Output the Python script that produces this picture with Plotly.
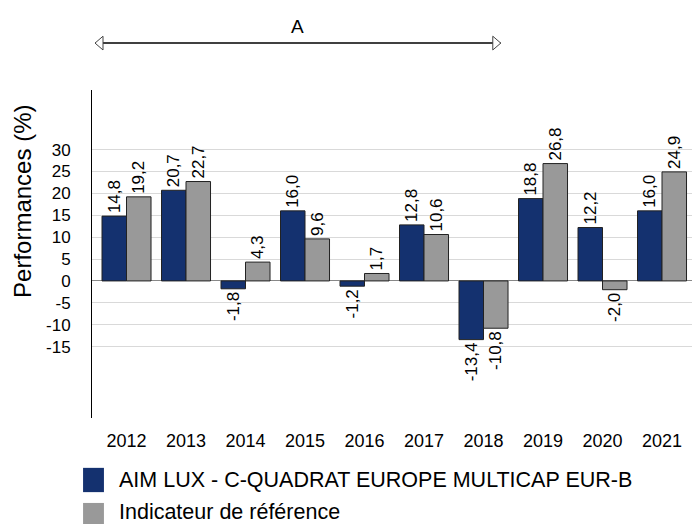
import plotly.graph_objects as go

years = ["2012", "2013", "2014", "2015", "2016", "2017", "2018", "2019", "2020", "2021"]
fund = [14.8, 20.7, -1.8, 16.0, -1.2, 12.8, -13.4, 18.8, 12.2, 16.0]
bench = [19.2, 22.7, 4.3, 9.6, 1.7, 10.6, -10.8, 26.8, -2.0, 24.9]
fund_name = "AIM LUX - C-QUADRAT EUROPE MULTICAP EUR-B"
bench_name = "Indicateur de référence"
ytick_vals = [30, 25, 20, 15, 10, 5, 0, -5, -10, -15]
period_label = "A"
y_title = "Performances (%)"

FUND_COLOR = "#14316F"
BENCH_COLOR = "#999999"
FONT = "Liberation Sans, Arial, sans-serif"


def fmt(v):
    return f"{v:.1f}".replace(".", ",")


fig = go.Figure()
for name, vals, color in [(fund_name, fund, FUND_COLOR), (bench_name, bench, BENCH_COLOR)]:
    fig.add_trace(go.Bar(
        x=years, y=vals, name=name, showlegend=False,
        marker=dict(color=color, line=dict(color="#222222", width=1)),
        text=[fmt(v) for v in vals], textposition="outside", textangle=-90,
        constraintext="none",
        textfont=dict(size=17, color="#000000", family=FONT), cliponaxis=False,
    ))

# Arrow spanning 2012 -> 2018
x0, x1 = -0.529, 6.29
ya = 1.143
hl, hh = 0.134, 0.021
fig.add_shape(type="line", xref="x", yref="paper", x0=x0, x1=x1, y0=ya, y1=ya,
              line=dict(color="#000000", width=1.5))
fig.add_shape(type="path", xref="x", yref="paper",
              path=f"M {x0+hl},{ya+hh} L {x0},{ya} L {x0+hl},{ya-hh} Z",
              line=dict(color="#444444", width=1), fillcolor="white")
fig.add_shape(type="path", xref="x", yref="paper",
              path=f"M {x1-hl},{ya+hh} L {x1},{ya} L {x1-hl},{ya-hh} Z",
              line=dict(color="#444444", width=1), fillcolor="white")
fig.add_annotation(x=(x0 + x1) / 2, y=1.195, xref="x", yref="paper", text=period_label,
                   showarrow=False, yanchor="middle",
                   font=dict(size=19, color="#000000", family=FONT))

# Y-axis title (placed above the axis centre, as in the reference)
fig.add_annotation(x=-0.116, y=0.66, xref="paper", yref="paper", text=y_title,
                   showarrow=False, textangle=-90, xanchor="center", yanchor="middle",
                   font=dict(size=24, color="#000000", family=FONT))

# Custom legend (large squares)
legend_rows = [(fund_name, FUND_COLOR, -0.189, -0.189),
               (bench_name, BENCH_COLOR, -0.296, -0.287)]
for name, color, ysq, ytx in legend_rows:
    fig.add_shape(type="rect", xref="paper", yref="paper",
                  x0=-0.0149, x1=0.0199, y0=ysq - 0.037, y1=ysq + 0.037,
                  line=dict(width=0), fillcolor=color)
    fig.add_annotation(x=0.0415, y=ytx, xref="paper", yref="paper", text=name,
                       showarrow=False, xanchor="left", yanchor="middle",
                       font=dict(size=21.5, color="#000000", family=FONT))

fig.update_layout(
    width=695, height=524,
    margin=dict(l=92, r=3, t=90, b=106, autoexpand=False),
    paper_bgcolor="white", plot_bgcolor="white",
    barmode="group", bargap=0.176, bargroupgap=0,
    font=dict(family=FONT, color="#000000"),
    showlegend=False,
    xaxis=dict(range=[-0.58, 9.504], showline=False, ticks="", tickfont=dict(size=18),
               showgrid=False, automargin=False, ticklabelstandoff=10),
    yaxis=dict(range=[-31.3, 43.6], tickvals=ytick_vals, ticktext=[str(v) for v in ytick_vals],
               showgrid=True, gridcolor="#d9d9d9", gridwidth=1,
               zeroline=True, zerolinecolor="#888888", zerolinewidth=1,
               showline=True, linecolor="#000000", linewidth=1, ticks="",
               tickfont=dict(size=17), automargin=False, ticklabelstandoff=17),
)

fig.write_html("out.html", config={"displayModeBar": False},
               post_script="document.body.style.margin='0px';")
